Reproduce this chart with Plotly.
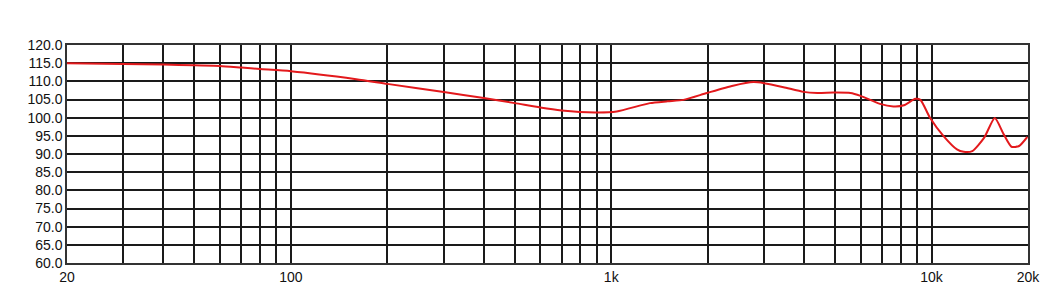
import plotly.graph_objects as go
import numpy as np

freq = [20, 30, 40, 50, 60, 70, 80, 100, 160, 200, 300, 400, 500, 600, 700, 890,
        1040, 1320, 1500, 1680, 1990, 2400, 2780, 3000, 3450, 3980, 4400, 4940, 5580,
        6000, 6900, 7600, 8200, 8900, 9230, 9900, 10900, 12000, 12600, 13400, 14600,
        15750, 16800, 17760, 18760, 19900]
spl = [115.0, 114.8, 114.6, 114.4, 114.25, 113.8, 113.4, 112.8, 110.6, 109.3, 107.05,
       105.4, 104.0, 102.8, 102.0, 101.45, 101.7, 104.0, 104.5, 104.9, 106.8, 108.8,
       109.8, 109.5, 108.4, 107.1, 106.8, 106.9, 106.8, 106.0, 103.8, 103.1, 103.4,
       105.2, 104.9, 99.9, 94.9, 91.25, 90.6, 90.8, 94.5, 99.9, 95.4, 92.0, 92.2, 94.7]

grid_x = [20, 30, 40, 50, 60, 70, 80, 90, 100, 200, 300, 400, 500, 600, 700, 800, 900,
          1000, 2000, 3000, 4000, 5000, 6000, 7000, 8000, 9000, 10000, 20000]
x_labels = {20: "20", 100: "100", 1000: "1k", 10000: "10k", 20000: "20k"}
y_ticks = [60, 65, 70, 75, 80, 85, 90, 95, 100, 105, 110, 115, 120]

fig = go.Figure()
fig.add_trace(go.Scatter(x=freq, y=spl, mode="lines",
                         line=dict(color="#e3191c", width=2, shape="spline", smoothing=0.6),
                         hoverinfo="skip"))

fig.update_layout(
    width=1056, height=302,
    margin=dict(l=67, r=28, t=45, b=39),
    paper_bgcolor="white", plot_bgcolor="white",
    showlegend=False,
    font=dict(family="Liberation Sans, Arial, sans-serif", size=14, color="#111"),
)
fig.update_xaxes(
    type="log", range=[np.log10(20), np.log10(20000)],
    tickvals=grid_x, ticktext=[x_labels.get(v, "") for v in grid_x],
    showgrid=True, gridcolor="#1a1a1a", gridwidth=1.5,
    showline=True, linecolor="#333", linewidth=1.5, mirror=True,
    ticks="", zeroline=False,
)
fig.update_yaxes(
    range=[60, 120], tickvals=y_ticks, ticktext=[f"{v:.1f}" for v in y_ticks],
    showgrid=True, gridcolor="#1a1a1a", gridwidth=1.5,
    showline=True, linecolor="#333", linewidth=1.5, mirror=True,
    ticks="", zeroline=False,
)
fig.write_html("out.html")
